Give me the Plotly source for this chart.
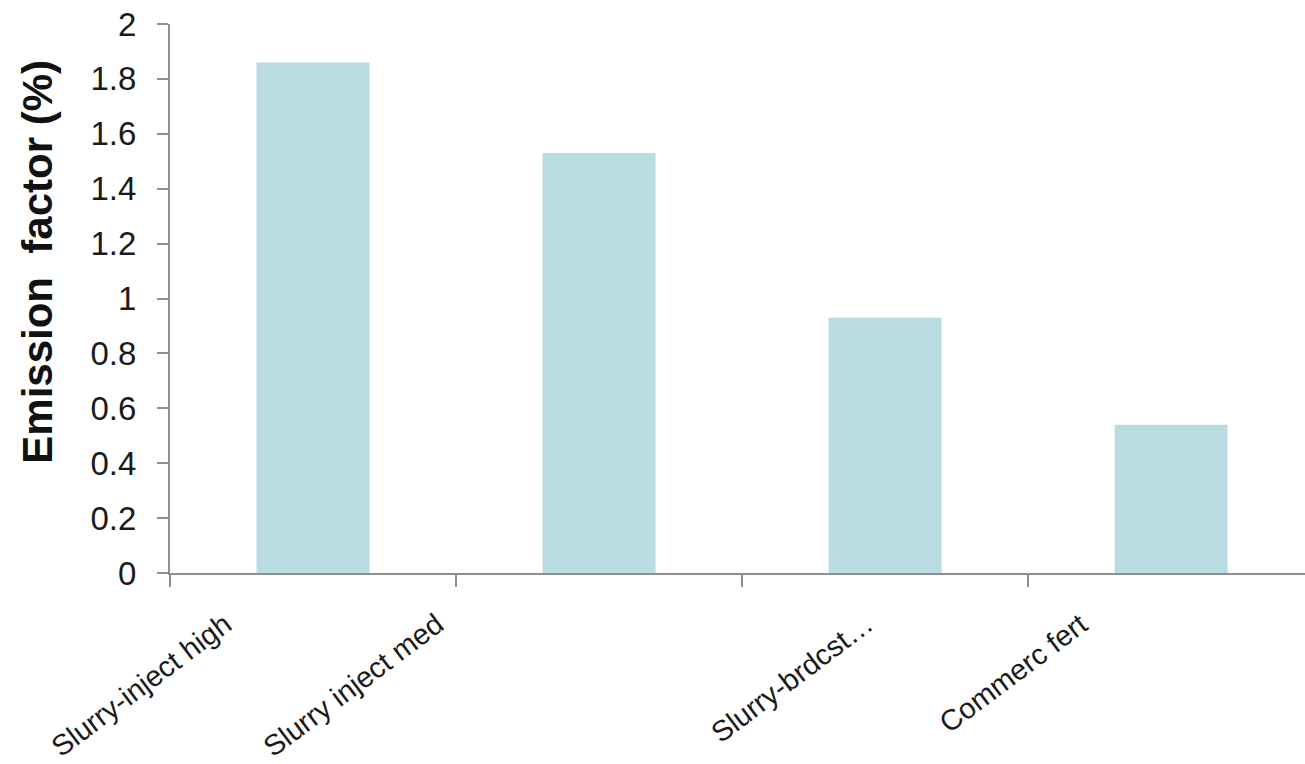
import plotly.graph_objects as go

# Emission factors by application method
categories = ["Slurry-inject high", "Slurry inject med", "Slurry-brdcst…", "Commerc fert"]
emission_factor = [1.86, 1.53, 0.93, 0.54]

# horizontal nudges (px) for the slanted category labels
label_shift = [-73, -147, -4, -75]

FONT = "Arial, 'Liberation Sans', sans-serif"
AXIS_GREY = "#8f8f8f"

fig = go.Figure(
    go.Bar(
        x=categories,
        y=emission_factor,
        marker=dict(color="#b8dce2", line=dict(width=0)),
        showlegend=False,
    )
)

for cat, dx in zip(categories, label_shift):
    fig.add_annotation(
        x=cat, xref="x", y=0, yref="paper",
        text=cat, showarrow=False, textangle=-37,
        xanchor="right", yanchor="top",
        xshift=dx, yshift=-31,
        font=dict(family=FONT, size=29, color="#1a1a1a"),
    )

# y-axis title, sitting a little above the axis middle
fig.add_annotation(
    x=0, xref="paper", y=0.567, yref="paper",
    text="<b>Emission  factor (%)</b>", showarrow=False, textangle=-90,
    xanchor="center", yanchor="middle", xshift=-132,
    font=dict(family=FONT, size=42, color="#111111"),
)

fig.update_layout(
    width=1305,
    height=764,
    margin=dict(l=170, r=0, t=24, b=191),
    paper_bgcolor="white",
    plot_bgcolor="white",
    bargap=0.605,
    font=dict(family=FONT, color="#1a1a1a"),
)

fig.update_xaxes(
    type="category",
    range=[-0.5, 3.468],
    showticklabels=False,
    tickson="boundaries",
    ticks="outside",
    ticklen=12,
    tickwidth=1.5,
    tickcolor=AXIS_GREY,
    showline=True,
    linecolor=AXIS_GREY,
    linewidth=2,
    showgrid=False,
    zeroline=False,
)

fig.update_yaxes(
    range=[0, 2],
    dtick=0.2,
    tick0=0,
    ticks="outside",
    ticklen=11,
    tickwidth=1.5,
    tickcolor=AXIS_GREY,
    ticklabelstandoff=14,
    tickfont=dict(family=FONT, size=33, color="#1a1a1a"),
    showline=True,
    linecolor=AXIS_GREY,
    linewidth=2,
    showgrid=False,
    zeroline=False,
)

fig.write_html("out.html")
